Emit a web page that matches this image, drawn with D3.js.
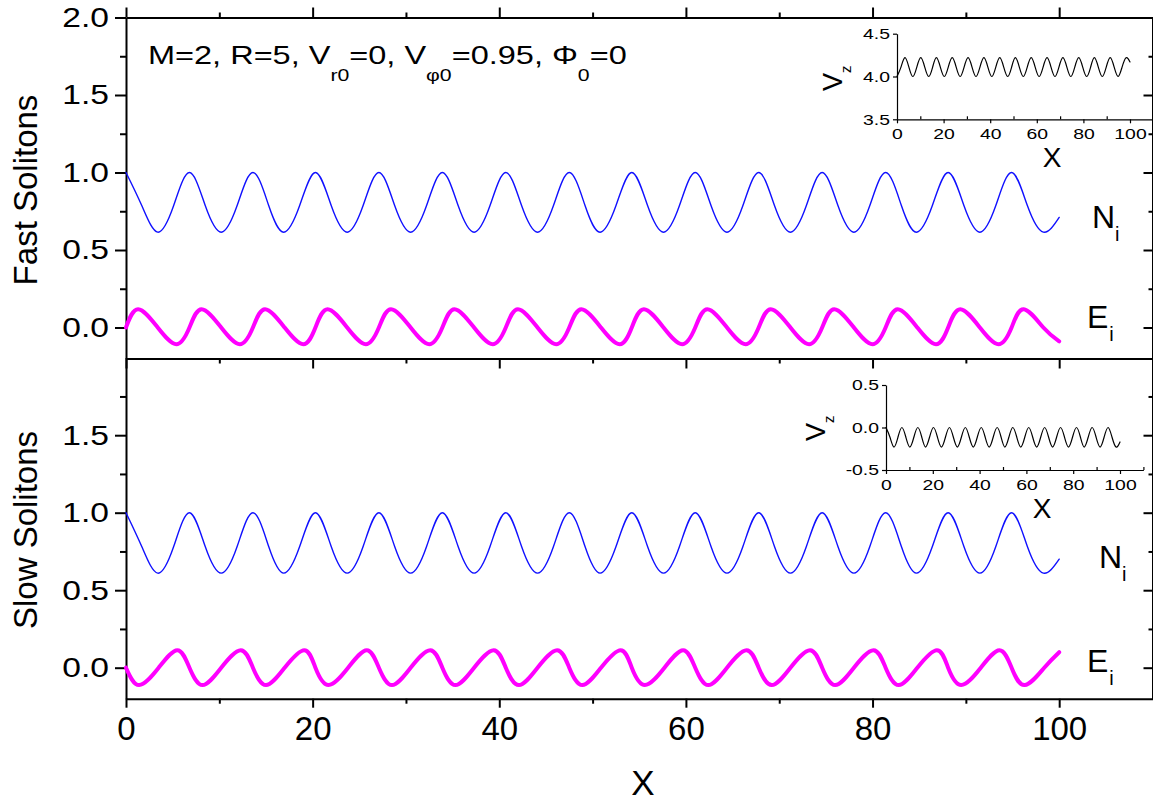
<!DOCTYPE html>
<html>
<head>
<meta charset="utf-8">
<script src="https://cdn.jsdelivr.net/npm/d3@7/dist/d3.min.js"></script>
<style>
  html, body { margin: 0; padding: 0; background: #fff; }
  svg { display: block; font-family: "Liberation Sans", Arial, Helvetica, sans-serif; }
  .axis .domain { stroke: #000; stroke-width: 2; }
  .axis .tick line { stroke: #000; stroke-width: 2; }
  .inset .domain { stroke: #000; stroke-width: 1.2; }
  .inset .tick line { stroke: #000; stroke-width: 1.2; }
</style>
</head>
<body>
<svg id="chart" width="1153" height="803"></svg>
<script>
// ---- data -------------------------------------------------------------
// X positions of crests, quarter points and troughs of the density wave
const nX = [
  0, 1.7, 3.4, 5.1, 6.8, 8.5, 10.2, 11.9, 13.6, 15.3, 16.9, 18.6,
  20.3, 22.0, 23.7, 25.4, 27.1, 28.8, 30.5, 32.2, 33.9, 35.6, 37.3, 39.0,
  40.7, 42.4, 44.1, 45.8, 47.5, 49.2, 50.8, 52.5, 54.2, 55.9, 57.6, 59.3,
  61.0, 62.7, 64.4, 66.1, 67.8, 69.5, 71.2, 72.9, 74.6, 76.3, 78.0, 79.7,
  81.4, 83.1, 84.7, 86.4, 88.1, 89.8, 91.5, 93.2, 94.9, 96.6, 98.3, 100
];
// ion density N_i, fast branch
const fastN = [
  1.0, 0.785, 0.615, 0.785, 1.0, 0.785, 0.615, 0.785, 1.0, 0.785, 0.615, 0.785,
  1.0, 0.785, 0.615, 0.785, 1.0, 0.785, 0.615, 0.785, 1.0, 0.785, 0.615, 0.785,
  1.0, 0.785, 0.615, 0.785, 1.0, 0.785, 0.615, 0.785, 1.0, 0.785, 0.615, 0.785,
  1.0, 0.785, 0.615, 0.785, 1.0, 0.785, 0.615, 0.785, 1.0, 0.785, 0.615, 0.785,
  1.0, 0.785, 0.615, 0.785, 1.0, 0.785, 0.615, 0.785, 1.0, 0.785, 0.615, 0.71
];
// ion density N_i, slow branch
const slowN = [
  1.0, 0.78, 0.61, 0.78, 1.0, 0.78, 0.61, 0.78, 1.0, 0.78, 0.61, 0.78,
  1.0, 0.78, 0.61, 0.78, 1.0, 0.78, 0.61, 0.78, 1.0, 0.78, 0.61, 0.78,
  1.0, 0.78, 0.61, 0.78, 1.0, 0.78, 0.61, 0.78, 1.0, 0.78, 0.61, 0.78,
  1.0, 0.78, 0.61, 0.78, 1.0, 0.78, 0.61, 0.78, 1.0, 0.78, 0.61, 0.78,
  1.0, 0.78, 0.61, 0.78, 1.0, 0.78, 0.61, 0.78, 1.0, 0.78, 0.61, 0.70
];
// axial velocity V_z (insets), sampled on the same X grid
const fastVz = [
  4.0, 4.11, 4.22, 4.11, 4.0, 4.11, 4.22, 4.11, 4.0, 4.11, 4.22, 4.11,
  4.0, 4.11, 4.22, 4.11, 4.0, 4.11, 4.22, 4.11, 4.0, 4.11, 4.22, 4.11,
  4.0, 4.11, 4.22, 4.11, 4.0, 4.11, 4.22, 4.11, 4.0, 4.11, 4.22, 4.11,
  4.0, 4.11, 4.22, 4.11, 4.0, 4.11, 4.22, 4.11, 4.0, 4.11, 4.22, 4.11,
  4.0, 4.11, 4.22, 4.11, 4.0, 4.11, 4.22, 4.11, 4.0, 4.11, 4.22, 4.17
];
const slowVz = [
  0, -0.115, -0.23, -0.115, 0, -0.115, -0.23, -0.115, 0, -0.115, -0.23, -0.115,
  0, -0.115, -0.23, -0.115, 0, -0.115, -0.23, -0.115, 0, -0.115, -0.23, -0.115,
  0, -0.115, -0.23, -0.115, 0, -0.115, -0.23, -0.115, 0, -0.115, -0.23, -0.115,
  0, -0.115, -0.23, -0.115, 0, -0.115, -0.23, -0.115, 0, -0.115, -0.23, -0.115,
  0, -0.115, -0.23, -0.115, 0, -0.115, -0.23, -0.115, 0, -0.115, -0.23, -0.17
];
// electric field E_i, fast branch: zero, crest, zero, trough per period
const fastEX = [
  0, 1.3, 3.4, 5.4, 6.8, 8.1, 10.2, 12.2, 13.6, 14.9, 17.0, 19.0,
  20.3, 21.6, 23.7, 25.7, 27.1, 28.4, 30.5, 32.5, 33.9, 35.2, 37.3, 39.3,
  40.7, 42.0, 44.1, 46.1, 47.5, 48.8, 50.9, 52.9, 54.2, 55.5, 57.6, 59.6,
  61.0, 62.3, 64.4, 66.4, 67.8, 69.1, 71.2, 73.2, 74.6, 75.9, 78.0, 80.0,
  81.4, 82.7, 84.8, 86.8, 88.1, 89.4, 91.5, 93.5, 94.9, 96.2, 98.3, 100
];
const fastE = [
  0, 0.118, 0, -0.108, 0, 0.118, 0, -0.108, 0, 0.118, 0, -0.108,
  0, 0.118, 0, -0.108, 0, 0.118, 0, -0.108, 0, 0.118, 0, -0.108,
  0, 0.118, 0, -0.108, 0, 0.118, 0, -0.108, 0, 0.118, 0, -0.108,
  0, 0.118, 0, -0.108, 0, 0.118, 0, -0.108, 0, 0.118, 0, -0.108,
  0, 0.118, 0, -0.108, 0, 0.118, 0, -0.108, 0, 0.118, 0, -0.09
];
// electric field E_i, slow branch: zero, trough, zero, crest per period
const slowEX = [
  0, 1.4, 3.5, 5.5, 6.8, 8.2, 10.2, 12.3, 13.6, 15.0, 17.0, 19.1,
  20.3, 21.7, 23.8, 25.8, 27.1, 28.5, 30.5, 32.6, 33.9, 35.3, 37.3, 39.4,
  40.7, 42.1, 44.1, 46.2, 47.5, 48.9, 50.9, 53.0, 54.2, 55.6, 57.7, 59.7,
  61.0, 62.4, 64.4, 66.5, 67.8, 69.2, 71.2, 73.3, 74.6, 76.0, 78.0, 80.1,
  81.4, 82.8, 84.8, 86.9, 88.1, 89.5, 91.6, 93.6, 94.9, 96.3, 98.4, 100
];
const slowE = [
  0, -0.112, 0, 0.113, 0, -0.112, 0, 0.113, 0, -0.112, 0, 0.113,
  0, -0.112, 0, 0.113, 0, -0.112, 0, 0.113, 0, -0.112, 0, 0.113,
  0, -0.112, 0, 0.113, 0, -0.112, 0, 0.113, 0, -0.112, 0, 0.113,
  0, -0.112, 0, 0.113, 0, -0.112, 0, 0.113, 0, -0.112, 0, 0.113,
  0, -0.112, 0, 0.113, 0, -0.112, 0, 0.113, 0, -0.112, 0, 0.10
];

// ticks
const xMajor = [0, 20, 40, 60, 80, 100];
const xMinor = [10, 30, 50, 70, 90];
const yMajorTop = [0, 0.5, 1.0, 1.5, 2.0];
const yMajorBot = [0, 0.5, 1.0, 1.5];
const yMinor = [0.25, 0.75, 1.25, 1.75];
const insetXMajor = [0, 20, 40, 60, 80, 100];
const insetXMinor = [10, 30, 50, 70, 90, 110];
const fastInsetY = [3.5, 4.0, 4.5];
const slowInsetY = [-0.5, 0.0, 0.5];

// ---- layout -----------------------------------------------------------
const svg = d3.select("#chart");
const x = d3.scaleLinear().domain([0, 110]).range([126, 1152.5]);
const yTop = d3.scaleLinear().domain([-0.2, 2.0]).range([358.5, 17.5]);
const yBot = d3.scaleLinear().domain([-0.2, 2.0]).range([698.7, 357.7]);

const fmt1 = d => d.toFixed(1);

// widen axis label glyphs horizontally
function widen(sel, sx) {
  sel.selectAll("text").each(function () {
    const t = d3.select(this);
    const xx = +t.attr("x") || 0;
    t.attr("x", xx / sx).attr("transform", `scale(${sx},1)`);
  });
}

function axisGroup(cls, tx, ty) {
  return svg.append("g").attr("class", cls).attr("transform", `translate(${tx},${ty})`);
}

function panelFrame(y, labelVals, withBottomLabels) {
  // left axis
  const left = axisGroup("axis", x(0), 0).call(
    d3.axisLeft(y).tickValues(labelVals).tickSize(11).tickPadding(6)
      .tickSizeOuter(0).tickFormat(fmt1));
  left.selectAll("text").attr("font-size", 28).attr("fill", "#000").attr("font-family", null);
  widen(left, 1.2);
  axisGroup("axis", x(0), 0).call(
    d3.axisLeft(y).tickValues(yMinor).tickSize(6).tickSizeOuter(0).tickFormat(""))
    .select(".domain").remove();
  // right axis, ticks inward
  axisGroup("axis", x(110), 0).call(
    d3.axisRight(y).tickValues([0, 0.5, 1.0, 1.5]).tickSize(-9).tickSizeOuter(0).tickFormat(""));
  axisGroup("axis", x(110), 0).call(
    d3.axisRight(y).tickValues(yMinor).tickSize(-4).tickSizeOuter(0).tickFormat(""))
    .select(".domain").remove();
  // bottom axis
  const bottom = axisGroup("axis", 0, y(-0.2)).call(
    d3.axisBottom(x).tickValues(xMajor).tickSize(withBottomLabels ? 9 : 10)
      .tickPadding(9).tickSizeOuter(0).tickFormat(withBottomLabels ? d3.format("d") : ""));
  bottom.selectAll("text").attr("font-size", 33).attr("fill", "#000").attr("font-family", null);
  axisGroup("axis", 0, y(-0.2)).call(
    d3.axisBottom(x).tickValues(xMinor).tickSize(5).tickSizeOuter(0).tickFormat(""))
    .select(".domain").remove();
}

panelFrame(yTop, yMajorTop, false);
panelFrame(yBot, yMajorBot, true);

// top edge of the upper panel, ticks pointing up
axisGroup("axis", 0, yTop(2.0)).call(
  d3.axisTop(x).tickValues(xMajor).tickSize(10).tickSizeOuter(0).tickFormat(""));
axisGroup("axis", 0, yTop(2.0)).call(
  d3.axisTop(x).tickValues(xMinor).tickSize(5).tickSizeOuter(0).tickFormat(""))
  .select(".domain").remove();

// ---- curves -----------------------------------------------------------
function drawCurve(xs, ys, xv, yv, color, width, curve) {
  const line = d3.line().x(d => xs(d[0])).y(d => ys(d[1])).curve(curve);
  svg.append("path")
    .datum(d3.zip(xv, yv))
    .attr("d", line)
    .attr("fill", "none")
    .attr("stroke", color)
    .attr("stroke-width", width)
    .attr("stroke-linejoin", "round")
    .attr("stroke-linecap", "round");
}

drawCurve(x, yTop, nX, fastN, "#1010ff", 1.4, d3.curveNatural);
drawCurve(x, yTop, fastEX, fastE, "#ff00ff", 4, d3.curveNatural);
drawCurve(x, yBot, nX, slowN, "#1010ff", 1.4, d3.curveNatural);
drawCurve(x, yBot, slowEX, slowE, "#ff00ff", 4, d3.curveNatural);

// ---- insets -----------------------------------------------------------
function inset(x0, x100, yTopPx, yBotPx, domainY, yTicks, vz, xLab, vLab) {
  const xs = d3.scaleLinear().domain([0, 110]).range([x0, x0 + (x100 - x0) * 1.1]);
  const ys = d3.scaleLinear().domain(domainY).range([yBotPx, yTopPx]);
  const l = axisGroup("inset", x0, 0).call(
    d3.axisLeft(ys).tickValues(yTicks).tickSize(4).tickPadding(3).tickSizeOuter(0).tickFormat(fmt1));
  l.selectAll("text").attr("font-size", 15.5).attr("fill", "#000").attr("font-family", null);
  widen(l, 1.25);
  const b = axisGroup("inset", 0, yBotPx).call(
    d3.axisBottom(xs).tickValues(insetXMajor).tickSize(4).tickPadding(5).tickSizeOuter(0).tickFormat(d3.format("d")));
  b.selectAll("text").attr("font-size", 15.5).attr("fill", "#000").attr("font-family", null);
  widen(b, 1.25);
  axisGroup("inset", 0, yBotPx).call(
    d3.axisTop(xs).tickValues(insetXMinor).tickSize(3).tickSizeOuter(0).tickFormat(""))
    .select(".domain").remove();
  drawCurve(xs, ys, nX, vz, "#000", 1.2, d3.curveNatural);

  svg.append("text").attr("x", xLab[0]).attr("y", xLab[1])
    .attr("text-anchor", "middle").attr("font-size", 28).text("X");
  const v = svg.append("text")
    .attr("transform", `translate(${vLab[0]},${vLab[1]}) rotate(-90)`)
    .attr("font-size", 27);
  v.append("tspan").text("V");
  v.append("tspan").attr("font-size", 15).attr("dy", 9).text("z");
}

inset(897, 1130, 33.7, 119.3, [3.5, 4.5], fastInsetY, fastVz, [1052, 167], [842, 91]);
inset(886, 1120, 385, 470, [-0.5, 0.5], slowInsetY, slowVz, [1042, 518], [825, 441]);

// ---- text -------------------------------------------------------------
const title = svg.append("text")
  .attr("transform", "translate(148,64) scale(1.25,1)")
  .attr("font-size", 26);
const titleParts = [
  ["M=2, R=5, V", 0], ["r0", 1], ["=0, V", 0], ["\u03c60", 1],
  ["=0.95, \u03a6", 0], ["0", 1], ["=0", 0]
];
let lowered = false;
titleParts.forEach(([s, sub]) => {
  const t = title.append("tspan").text(s);
  if (sub && !lowered) { t.attr("font-size", 17).attr("dy", 17); lowered = true; }
  else if (!sub && lowered) { t.attr("dy", -17); lowered = false; }
});

function seriesLabel(base, sub, px, py, subDx, subDy) {
  const t = svg.append("text").attr("x", px).attr("y", py).attr("font-size", 32);
  t.append("tspan").text(base);
  t.append("tspan").attr("font-size", 20).attr("dx", subDx).attr("dy", subDy).text(sub);
}
seriesLabel("N", "i", 1092, 228, 0, 13);
seriesLabel("E", "i", 1087, 328, 1, 13);
seriesLabel("N", "i", 1099, 568, 0, 13);
seriesLabel("E", "i", 1087, 672, 1, 13);

svg.append("text")
  .attr("transform", "translate(37,190) rotate(-90)")
  .attr("text-anchor", "middle").attr("font-size", 33).text("Fast Solitons");
svg.append("text")
  .attr("transform", "translate(37,530) rotate(-90)")
  .attr("text-anchor", "middle").attr("font-size", 33).text("Slow Solitons");

svg.append("text").attr("x", 643).attr("y", 795)
  .attr("text-anchor", "middle").attr("font-size", 35).text("X");
</script>
</body>
</html>
